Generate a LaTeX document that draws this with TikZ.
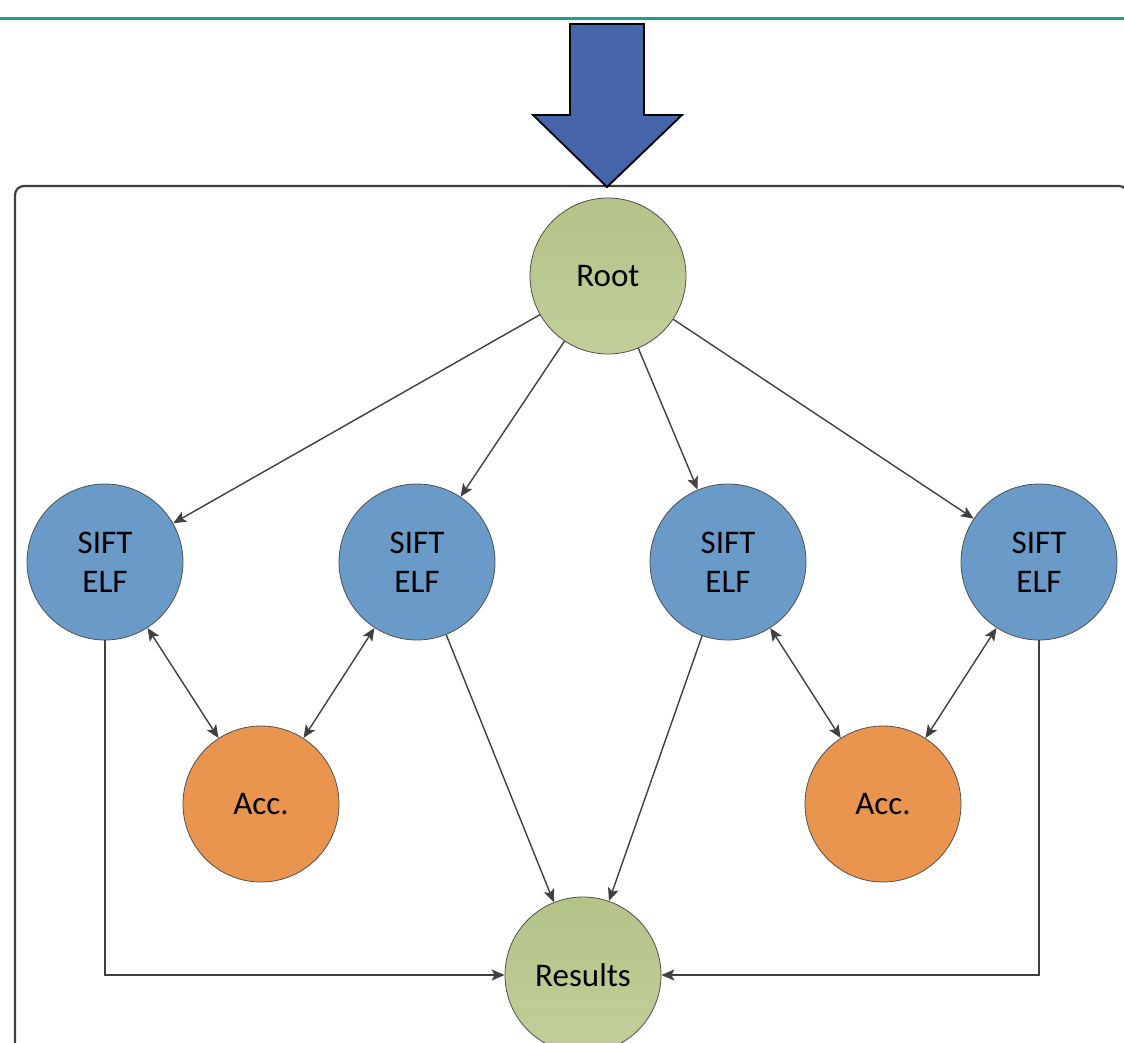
\documentclass[tikz,border=0pt]{standalone}
\usepackage{fontspec}
\setmainfont{Carlito}
\usetikzlibrary{arrows.meta}

\definecolor{rulecol}{RGB}{30,160,140}
\definecolor{framecol}{RGB}{64,64,64}
\definecolor{linkcol}{RGB}{64,64,64}
\definecolor{ringcol}{RGB}{80,80,80}
\definecolor{greentop}{RGB}{180,195,136}
\definecolor{greenbot}{RGB}{193,206,154}
\definecolor{bluefill}{RGB}{106,155,200}
\definecolor{orangefill}{RGB}{233,149,79}
\definecolor{bigarrow}{RGB}{70,101,170}

\tikzset{
  bubble/.style={circle, draw=ringcol, line width=0.8pt, minimum size=156pt,
    inner sep=0pt, align=center, font=\fontsize{33}{39}\selectfont},
  greenbubble/.style={bubble, top color=greentop, bottom color=greenbot},
  bluebubble/.style={bubble, fill=bluefill},
  orangebubble/.style={bubble, fill=orangefill},
  tip/.tip={Stealth[length=13pt,width=11pt,inset=3pt]},
  link/.style={draw=linkcol, line width=1.4pt, -tip},
  twoway/.style={draw=linkcol, line width=1.4pt, tip-tip},
}

\begin{document}
\begin{tikzpicture}[x=1pt,y=-1pt]
  \useasboundingbox (0,0) rectangle (1124,1043);
  \clip (0,0) rectangle (1124,1043);

  % header rule
  \draw[rulecol, line width=2.2pt] (0,18.5) -- (1124,18.5);

  % frame around the tree
  \draw[framecol, line width=2.2pt, rounded corners=9pt] (15,186) rectangle (1128,1120);

  % input arrow
  \draw[black, line width=1.8pt, fill=bigarrow, line join=miter]
    (570,24) -- (644,24) -- (644,115) -- (682,115) -- (607,187)
    -- (533,115) -- (570,115) -- cycle;

  % nodes
  \node[greenbubble] (root) at (608,276) {Root};
  \node[bluebubble] (s1) at (105,562) {SIFT\\ELF};
  \node[bluebubble] (s2) at (417,562) {SIFT\\ELF};
  \node[bluebubble] (s3) at (728,562) {SIFT\\ELF};
  \node[bluebubble] (s4) at (1039,562) {SIFT\\ELF};
  \node[orangebubble] (a1) at (261,804) {Acc.};
  \node[orangebubble] (a2) at (883,804) {Acc.};
  \node[greenbubble] (res) at (583,975) {Results};

  % connectors
  \draw[link] (root) -- (s1);
  \draw[link] (root) -- (s2);
  \draw[link] (root) -- (s3);
  \draw[link] (root) -- (s4);

  \draw[twoway] (s1) -- (a1);
  \draw[twoway] (s2) -- (a1);
  \draw[twoway] (s3) -- (a2);
  \draw[twoway] (s4) -- (a2);

  \draw[link] (s2) -- (res);
  \draw[link] (s3) -- (res);
  \draw[link] (s1.south) |- (res.west);
  \draw[link] (s4.south) |- (res.east);
\end{tikzpicture}
\end{document}
